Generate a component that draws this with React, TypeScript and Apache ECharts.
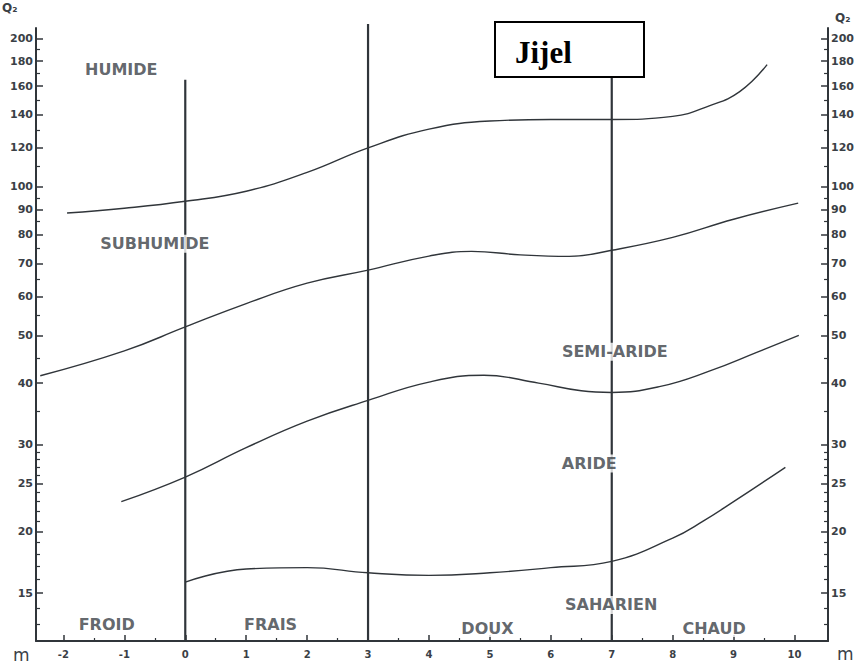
import React, { useEffect, useRef } from "react";
import * as echarts from "echarts";

// ---- Data (Emberger climagram, Jijel) ----
const mMajorTicks = [-2, -1, 0, 1, 2, 3, 4, 5, 6, 7, 8, 9, 10];
const mMinorTicks = [-1.5, -0.5, 0.5, 1.5, 2.5, 3.5, 4.5, 5.5, 6.5, 7.5, 8.5, 9.5];
const q2MajorTicks = [15, 20, 25, 30, 40, 50, 60, 70, 80, 90, 100, 120, 140, 160, 180, 200];
const q2MinorTicks = [13, 14, 16, 17, 18, 19, 21, 22, 23, 24, 26, 27, 28, 29, 35, 45, 55, 65, 75, 85, 95, 110, 130, 150, 170, 190];

// bioclimatic boundary curves: [m, Q2]
const humideLimit = [
  [-1.94, 88.5], [-1, 90.5], [0, 93.5], [1, 98], [2, 107], [3, 120], [4, 131],
  [5, 136], [6, 137], [7, 137], [8, 139], [8.6, 146], [9.1, 156], [9.55, 177],
];
const subhumideLimit = [
  [-2.38, 41.4], [-1, 46.5], [0, 52], [1, 58], [2, 63.8], [3, 67.8], [4, 72.4],
  [4.7, 74], [5.5, 72.8], [6.3, 72.3], [7, 74.4], [8, 79], [9, 86], [10.06, 92.7],
];
const semiArideLimit = [
  [-1.05, 23], [0, 25.8], [1, 29.6], [2, 33.5], [3, 36.9], [4, 40.2], [4.9, 41.5],
  [5.8, 40], [6.5, 38.6], [7, 38.3], [7.8, 39.4], [8.6, 42.3], [9.4, 46.3], [10.07, 50],
];
const arideLimit = [
  [0, 15.8], [1, 16.8], [2, 16.9], [3, 16.5], [4, 16.3], [5, 16.5], [6, 16.9],
  [7, 17.4], [8, 19.4], [8.5, 21], [9, 23], [9.85, 27],
];

// thermal variant limits (vertical lines)
const thermalLimitsM = [0, 3, 7];
const thermalLimitsTop = [165, 214, 168];

// region names
const regionNames = ["HUMIDE", "SUBHUMIDE", "SEMI-ARIDE", "ARIDE", "SAHARIEN", "FROID", "FRAIS", "DOUX", "CHAUD"];
const regionM = [-1.05, -0.5, 7.05, 6.63, 6.99, -1.29, 1.4, 4.96, 8.68];
const regionQ2 = [173, 76.7, 46.3, 27.5, 14.2, 12.95, 12.95, 12.75, 12.75];

const M_MIN = -2.45;
const M_MAX = 10.55;
const Q_MIN = 12;
const Q_MAX = 210;

const INK = "#30353a";
const TXT = "#3a4046";

export default function App() {
  const ref = useRef<HTMLDivElement>(null);

  useEffect(() => {
    if (!ref.current) return;
    const chart = echarts.init(ref.current, undefined, { renderer: "svg" });

    const axisLine = { show: true, onZero: false, lineStyle: { color: INK, width: 2 } };
    const numLabel = { color: TXT, fontSize: 11, fontWeight: "bold" as const, fontFamily: "DejaVu Sans" };

    const xBase = { type: "value" as const, min: M_MIN, max: M_MAX, gridIndex: 0, position: "bottom" as const, splitLine: { show: false } };
    const yBase = { type: "log" as const, logBase: 10, min: Q_MIN, max: Q_MAX, gridIndex: 0, splitLine: { show: false } };

    const curveStyle = { color: INK, width: 1.4 };
    const curve = (data: number[][]) => ({
      type: "line",
      data,
      smooth: 0.45,
      showSymbol: false,
      symbol: "none",
      lineStyle: curveStyle,
      z: 2,
      silent: true,
    });

    const verticals = thermalLimitsM.map((m, i) => ({
      type: "line",
      data: [[m, Q_MIN], [m, thermalLimitsTop[i]]],
      showSymbol: false,
      symbol: "none",
      clip: false,
      lineStyle: { color: INK, width: 2.2 },
      z: 1,
      silent: true,
    }));

    chart.setOption({
      animation: false,
      backgroundColor: "#ffffff",
      grid: { left: 36, right: 25, top: 28, bottom: 24, containLabel: false },
      xAxis: [
        {
          ...xBase,
          axisLine,
          axisTick: { show: true, inside: true, length: 6, customValues: mMajorTicks, lineStyle: { color: INK, width: 1.5 } },
          axisLabel: { ...numLabel, fontSize: 10, margin: 8, customValues: mMajorTicks, formatter: (v: number) => String(v) },
        },
        {
          ...xBase,
          axisLine: { show: false, onZero: false },
          axisTick: { show: true, inside: true, length: 3, customValues: mMinorTicks, lineStyle: { color: INK, width: 1.2 } },
          axisLabel: { show: false },
        },
      ],
      yAxis: [
        {
          ...yBase,
          position: "left",
          axisLine,
          axisTick: { show: true, inside: true, length: 7, customValues: q2MajorTicks, lineStyle: { color: INK, width: 1.5 } },
          axisLabel: { ...numLabel, margin: 3, customValues: q2MajorTicks, formatter: (v: number) => String(Math.round(v)) },
        },
        {
          ...yBase,
          position: "right",
          axisLine,
          axisTick: { show: true, inside: true, length: 7, customValues: q2MajorTicks, lineStyle: { color: INK, width: 1.5 } },
          axisLabel: { ...numLabel, margin: 3, customValues: q2MajorTicks, formatter: (v: number) => String(Math.round(v)) },
        },
        {
          ...yBase,
          position: "left",
          axisLine: { show: false, onZero: false },
          axisTick: { show: true, inside: true, length: 4, customValues: q2MinorTicks, lineStyle: { color: INK, width: 1.2 } },
          axisLabel: { show: false },
        },
        {
          ...yBase,
          position: "right",
          axisLine: { show: false, onZero: false },
          axisTick: { show: true, inside: true, length: 4, customValues: q2MinorTicks, lineStyle: { color: INK, width: 1.2 } },
          axisLabel: { show: false },
        },
      ],
      series: [
        ...verticals,
        curve(humideLimit),
        curve(subhumideLimit),
        curve(semiArideLimit),
        curve(arideLimit),
        {
          type: "scatter",
          data: regionNames.map((n, i) => ({ name: n, value: [regionM[i], regionQ2[i]] })),
          symbolSize: 0,
          silent: true,
          z: 5,
          label: {
            show: true,
            position: "inside",
            formatter: "{b}",
            color: TXT,
            fontSize: 16,
            fontWeight: "bold",
            fontFamily: "DejaVu Sans",
            backgroundColor: "#ffffff",
            padding: [1, 3],
          },
        },
      ],
      graphic: [
        {
          type: "rect",
          shape: { x: 495, y: 22, width: 149, height: 55 },
          style: { fill: "#ffffff", stroke: "#000000", lineWidth: 2 },
          z: 10,
        },
        {
          type: "text",
          x: 515,
          y: 52,
          style: { text: "Jijel", font: "bold 31px 'Liberation Serif'", fill: "#000", verticalAlign: "middle" },
          z: 11,
        },
        { type: "text", x: 2, y: 2, style: { text: "Q₂", font: "bold 12px 'DejaVu Sans'", fill: TXT } },
        { type: "text", x: 835, y: 12, style: { text: "Q₂", font: "bold 12px 'DejaVu Sans'", fill: TXT } },
        { type: "text", x: 13, y: 646, style: { text: "m", font: "17px 'DejaVu Sans'", fill: TXT } },
        { type: "text", x: 837, y: 645, style: { text: "m", font: "17px 'DejaVu Sans'", fill: TXT } },
      ],
    });

    return () => chart.dispose();
  }, []);

  return <div ref={ref} style={{ position: "fixed", left: 0, top: 0, width: 857, height: 665 }} />;
}
